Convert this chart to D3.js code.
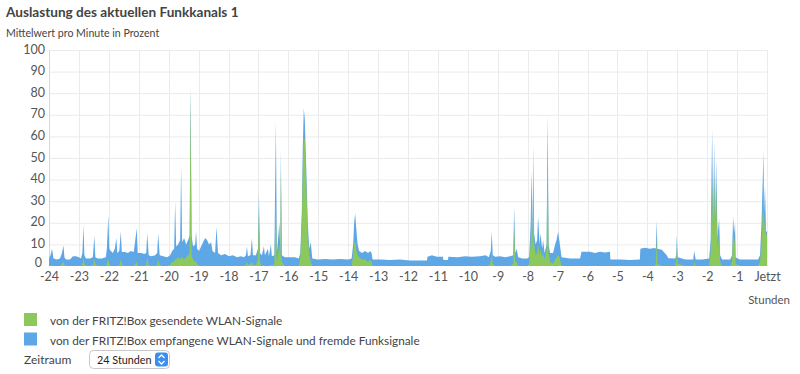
<!DOCTYPE html>
<html><head><meta charset="utf-8">
<script src="https://cdn.jsdelivr.net/npm/d3@7"></script>
<style>
body{margin:0;background:#fff;font-family:Lato,"Open Sans",sans-serif;}
svg{display:block}
</style></head>
<body>
<svg id="c" width="800" height="374"></svg>
<script>
// minutes since -24 h
const minutes = [
  0,3,6,9,16,22,26,29,31,34,
  42,48,54,60,64,67,69,71,74,82,
  88,91,93,98,106,114,116,119,121,124,
  128,132,135,137,141,144,146,152,158,164,
  170,176,178,185,191,195,197,200,205,213,
  217,219,222,229,237,243,247,251,253,255,
  259,263,265,267,271,275,279,282,284,286,
  289,293,295,297,301,305,309,313,317,321,
  325,328,333,336,339,345,353,361,369,377,
  385,391,395,397,399,404,407,409,415,419,
  421,423,427,431,433,439,441,445,447,452,
  455,457,462,464,465,467,473,483,493,501,
  504,507,509,511,513,516,519,522,525,528,
  539,554,568,584,600,607,610,612,614,616,
  619,622,628,634,640,644,647,649,664,684,
  704,724,740,758,759,768,778,790,791,800,
  801,820,834,848,864,876,882,886,888,890,
  895,905,915,925,931,933,935,938,941,949,
  959,963,966,968,970,971,973,976,979,981,
  984,986,989,991,994,998,1000,1002,1005,1011,
  1015,1018,1021,1024,1028,1045,1065,1068,1085,1095,
  1105,1115,1125,1126,1145,1165,1185,1186,1195,1205,
  1215,1217,1219,1220,1229,1239,1242,1256,1258,1259,
  1261,1276,1292,1294,1297,1310,1324,1327,1330,1332,
  1334,1336,1338,1341,1342,1344,1346,1350,1366,1370,
  1372,1374,1376,1377,1385,1406,1422,1426,1429,1433,
  1434,1436,1438,1440];
// total load (received + sent), percent
const totalLoad = [
  3.5,5,8,3.5,3,3.5,6,9.5,4,3,
  3,4.5,4.5,4,3.5,6,19,5,3.5,3.5,
  4,14,4,3.5,3.5,4,8,23.5,8,7,
  6,8,13,6,7,16,6.5,6.5,6,7,
  6.5,17.5,6,6,5.5,6,15,5,4.5,5,
  6,15,5,4.5,4,5,7,8,30,9,
  10,12,46,11,13,10,12,14,83,14,
  9,10,16,8,7,9,11,13,12,10,
  11,7,6,18,6,5,5.5,4.5,5,4,
  4.5,4,5,9,4.5,5,13,5,5,8,
  34,6,5,9,5,8,4.5,10,4.5,5,
  67,6,20,6,54,5,4,4,4,3.5,
  6,25,55,73,68,45,20,8,11,3.5,
  3,3.2,3,3.2,3,3.5,10,20,24.5,18,
  10,7,6,7,6,7,6,3,3,2.8,
  3,2.5,2.5,2.5,4.3,5,4.3,4.3,2.8,2.8,
  4.3,4,4.5,4.3,4.5,5,4,7,16,5,
  4.3,4.5,4,4.5,5,27.5,6,8,4,3.5,
  3.5,4,20,44,15,56,15,10,12,23,
  10,15,8,12,6,10,70.5,10,6,6,
  10,12,15.8,11,4,3.5,3.5,6.6,6.6,6,
  6.6,6.2,6.6,3,3,2.8,3,8,8.5,8,
  8.3,8,21,8,7.5,5,3.6,3.5,5,14.5,
  4,3,3,7,3,3,3.5,12,63,20,
  57,22,49,12,17,22,5,3,3,5,
  23,15,20,4,3,3,3,5,20,53,
  25,37,16,16];
// sent by the FRITZ!Box, percent
const sentLoad = [
  0,0,0.5,0,0,0,1,2,0.5,0,
  0,0,0,0,0,1,4,1,0,0,
  0.5,3,1,0,0,0,1,3,1,0,
  0,0,0,0,0.5,3,0.5,0,0,0,
  0,2,0,0,0,0.5,4,0.5,0,0,
  0.5,3,0.5,0,0,0.5,2,2,3,3,
  4,3,4,4,3,4,5,6,80,5,
  3,2,2,1,0,0,0,0,0,0,
  0,0,0,0,0,0,0,0,0,0,
  0,0,0.5,2,0.5,1,2,0.5,0.5,3,
  25,2,0,0.5,0,0,0,0.5,0,1,
  30,2,10,3,45,2,0,0,0,0,
  4,20,45,60,58,38,15,5,2,0,
  0,0,0,0,0,0,5,10,12,8,
  5,4,3,3,2,3,2,0,0,0,
  0,0,0,0,0,0,0,0,0,0,
  0,0,0,0,0,0,0,2,6,1,
  0,0,0,0,1,18,2,2,0,0,
  0,1,10,30,8,40,10,5,6,10,
  5,8,4,6,3,8,55,6,2,1,
  3,4,5,4,0,0,0,0,0,0,
  0,0,0,0,0,0,0,0,0,0,
  0,1,14,1,0,0,0,0,2,8,
  1,0,0,2,0,0,0,6,40,12,
  42,15,35,8,10,15,2,0,0,2,
  16,10,14,1,0,0,0,2,10,35,
  15,25,14,15];
const hourTicks = [-24,-23,-22,-21,-20,-19,-18,-17,-16,-15,-14,-13,-12,-11,-10,-9,-8,-7,-6,-5,-4,-3,-2,-1,0];
const yTicks = [0,10,20,30,40,50,60,70,80,90,100];
const legendItems = [
  {label:"von der FRITZ!Box gesendete WLAN-Signale", color:"#8cc85c"},
  {label:"von der FRITZ!Box empfangene WLAN-Signale und fremde Funksignale", color:"#5ea7e6"}
];

const data = minutes.map((m,i)=>({t:m/60-24, total:totalLoad[i], sent:sentLoad[i]}));
const svg = d3.select("#c");
const x = d3.scaleLinear().domain([-24,0]).range([49,767]);
const y = d3.scaleLinear().domain([0,100]).range([266,50]);
const font = "Lato, 'Open Sans', sans-serif";

svg.append("text").attr("x",6).attr("y",17).attr("font-family",font).attr("font-weight","bold")
  .attr("font-size",13.6).attr("fill","#444").text("Auslastung des aktuellen Funkkanals 1");
svg.append("text").attr("x",6).attr("y",37).attr("font-family",font)
  .attr("font-size",10.6).attr("fill","#444").text("Mittelwert pro Minute in Prozent");

// grid
const g = svg.append("g");
g.selectAll("line.h").data(yTicks.filter(d=>d>0)).join("line")
  .attr("x1",x(-24)).attr("x2",x(0)).attr("y1",d=>y(d)+0.5).attr("y2",d=>y(d)+0.5)
  .attr("stroke","#ebebeb");
g.selectAll("line.v").data(hourTicks).join("line")
  .attr("x1",d=>Math.round(x(d))+0.5).attr("x2",d=>Math.round(x(d))+0.5).attr("y1",y(100)).attr("y2",y(0))
  .attr("stroke",(d)=> d===-24 ? "#d8d8d8" : "#ebebeb");

// areas
const areaTotal = d3.area().x(d=>x(d.t)).y0(y(0)).y1(d=>y(d.total));
const areaSent = d3.area().x(d=>x(d.t)).y0(y(0)).y1(d=>y(d.sent));
svg.append("path").datum(data).attr("d",areaTotal).attr("fill",legendItems[1].color);
svg.append("path").datum(data).attr("d",areaSent).attr("fill",legendItems[0].color);

// axes
const ya = svg.append("g").attr("transform","translate(45,-1)")
  .call(d3.axisLeft(y).tickValues(yTicks).tickSize(0).tickPadding(0));
ya.select(".domain").remove();
ya.selectAll("text").attr("font-family",font).attr("font-size",12.5).attr("fill","#555");
ya.selectAll(".tick").filter(d=>d===0).select("text").attr("dx",-3).attr("dy","0.1em");
const xa = svg.append("g").attr("transform","translate(0,270)")
  .call(d3.axisBottom(x).tickValues(hourTicks).tickSize(0).tickPadding(2)
    .tickFormat(d=> d===0 ? "Jetzt" : String(d)));
xa.select(".domain").remove();
xa.selectAll("text").attr("font-family",font).attr("font-size",12.5).attr("fill","#555");
svg.append("text").attr("x",790).attr("y",304).attr("text-anchor","end").attr("font-family",font)
  .attr("font-size",11.5).attr("fill","#555").text("Stunden");

// legend
const lg = svg.append("g");
legendItems.forEach((it,i)=>{
  lg.append("rect").attr("x",24).attr("y",313+i*19.5).attr("width",13).attr("height",13).attr("fill",it.color);
  lg.append("text").attr("x",50).attr("y",325+i*19.5).attr("font-family",font).attr("font-size",11.8)
    .attr("fill","#444").text(it.label);
});
svg.append("text").attr("x",24).attr("y",364).attr("font-family",font).attr("font-size",12)
  .attr("fill","#444").text("Zeitraum");
// select box
svg.append("rect").attr("x",89.5).attr("y",350.5).attr("width",80).attr("height",18).attr("rx",4)
  .attr("fill","#fff").attr("stroke","#c8c8c8");
svg.append("text").attr("x",97).attr("y",363.5).attr("font-family",font).attr("font-size",10.8)
  .attr("fill","#222").text("24 Stunden");
svg.append("rect").attr("x",155).attr("y",352.5).attr("width",13).attr("height",14).attr("rx",3).attr("fill","#3b8ff0");
svg.append("path").attr("d","M158.5,358 L161.5,355 L164.5,358 M158.5,361 L161.5,364 L164.5,361")
  .attr("fill","none").attr("stroke","#fff").attr("stroke-width",1.3);
</script>
</body></html>
